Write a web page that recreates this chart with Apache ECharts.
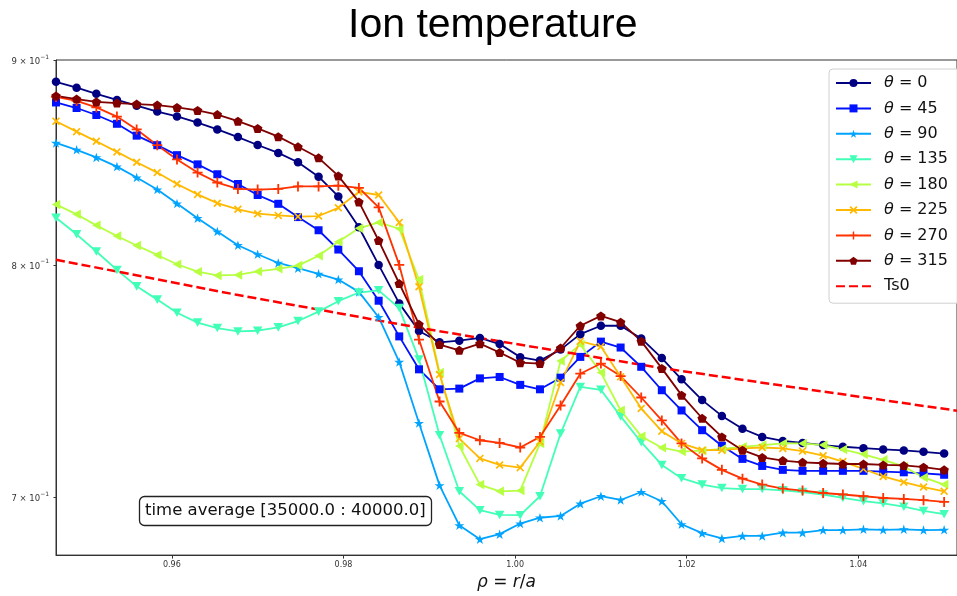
<!DOCTYPE html>
<html><head><meta charset="utf-8">
<script src="https://cdn.jsdelivr.net/npm/echarts@6/dist/echarts.min.js"></script>
<style>html,body{margin:0;padding:0;background:#fff}#c{width:957px;height:596px}</style>
</head><body><div id="c"></div>
<script>
// ---- data ----
const rho = [0.9465,0.9489,0.9512,0.9536,0.9559,0.9583,0.9606,0.9630,0.9653,0.9677,0.9700,0.9724,0.9747,0.9771,0.9794,0.9818,0.9841,0.9865,0.9888,0.9912,0.9935,0.9959,0.9982,1.0006,1.0029,1.0053,1.0076,1.0100,1.0123,1.0147,1.0171,1.0194,1.0218,1.0241,1.0265,1.0288,1.0312,1.0335,1.0359,1.0382,1.0406,1.0429,1.0453,1.0476,1.0500];
const theta0 = [0.8888,0.8858,0.8827,0.8796,0.8767,0.8737,0.8713,0.8682,0.8648,0.8610,0.8571,0.8532,0.8486,0.8416,0.8321,0.8175,0.8000,0.7825,0.7702,0.7652,0.7659,0.7671,0.7644,0.7587,0.7572,0.7620,0.7688,0.7725,0.7725,0.7669,0.7583,0.7491,0.7402,0.7335,0.7281,0.7247,0.7230,0.7222,0.7213,0.7206,0.7200,0.7195,0.7191,0.7185,0.7178];
const theta45 = [0.8783,0.8755,0.8720,0.8676,0.8617,0.8570,0.8521,0.8476,0.8428,0.8381,0.8328,0.8286,0.8223,0.8161,0.8071,0.7971,0.7837,0.7678,0.7534,0.7448,0.7451,0.7495,0.7501,0.7467,0.7448,0.7498,0.7588,0.7655,0.7629,0.7545,0.7444,0.7358,0.7275,0.7210,0.7156,0.7127,0.7111,0.7107,0.7107,0.7107,0.7107,0.7104,0.7101,0.7097,0.7091];
const theta90 = [0.8581,0.8547,0.8510,0.8465,0.8412,0.8354,0.8287,0.8218,0.8155,0.8091,0.8049,0.8009,0.7985,0.7959,0.7933,0.7877,0.7763,0.7566,0.7305,0.7048,0.6888,0.6833,0.6853,0.6895,0.6918,0.6925,0.6974,0.7004,0.6989,0.7021,0.6984,0.6892,0.6857,0.6836,0.6846,0.6846,0.6859,0.6859,0.6869,0.6869,0.6872,0.6870,0.6872,0.6869,0.6870];
const theta135 = [0.8220,0.8142,0.8062,0.7977,0.7902,0.7842,0.7783,0.7739,0.7715,0.7700,0.7703,0.7718,0.7746,0.7788,0.7835,0.7874,0.7884,0.7804,0.7577,0.7254,0.7024,0.6948,0.6929,0.6928,0.7004,0.7261,0.7458,0.7446,0.7333,0.7225,0.7131,0.7077,0.7051,0.7037,0.7033,0.7033,0.7028,0.7021,0.7011,0.6997,0.6984,0.6975,0.6962,0.6945,0.6932];
const theta180 = [0.8283,0.8236,0.8184,0.8134,0.8090,0.8046,0.8003,0.7969,0.7952,0.7954,0.7970,0.7982,0.7997,0.8042,0.8107,0.8170,0.8198,0.8168,0.7933,0.7520,0.7209,0.7051,0.7024,0.7027,0.7220,0.7570,0.7642,0.7520,0.7359,0.7250,0.7202,0.7186,0.7190,0.7197,0.7206,0.7213,0.7220,0.7220,0.7213,0.7195,0.7175,0.7152,0.7125,0.7080,0.7051];
const theta225 = [0.8689,0.8637,0.8589,0.8537,0.8486,0.8436,0.8381,0.8331,0.8289,0.8260,0.8239,0.8231,0.8225,0.8228,0.8267,0.8343,0.8328,0.8198,0.7900,0.7512,0.7240,0.7158,0.7131,0.7120,0.7227,0.7477,0.7657,0.7633,0.7502,0.7366,0.7271,0.7220,0.7192,0.7192,0.7199,0.7203,0.7199,0.7188,0.7169,0.7145,0.7115,0.7084,0.7061,0.7041,0.7024];
const theta270 = [0.8811,0.8791,0.8758,0.8712,0.8648,0.8570,0.8500,0.8436,0.8388,0.8357,0.8354,0.8357,0.8369,0.8369,0.8373,0.8362,0.8269,0.8000,0.7664,0.7396,0.7264,0.7233,0.7222,0.7203,0.7247,0.7379,0.7515,0.7559,0.7505,0.7413,0.7316,0.7220,0.7158,0.7111,0.7075,0.7051,0.7035,0.7027,0.7017,0.7011,0.7004,0.6997,0.6993,0.6988,0.6981];
const theta315 = [0.8816,0.8800,0.8786,0.8780,0.8775,0.8770,0.8758,0.8743,0.8722,0.8689,0.8653,0.8612,0.8562,0.8508,0.8420,0.8295,0.8113,0.7915,0.7732,0.7642,0.7617,0.7646,0.7607,0.7563,0.7559,0.7627,0.7725,0.7769,0.7741,0.7657,0.7538,0.7423,0.7325,0.7247,0.7192,0.7162,0.7149,0.7142,0.7138,0.7135,0.7135,0.7131,0.7129,0.7122,0.7111];
const ts0Rho = [0.9465,0.9674,0.9884,0.9970,1.0168,1.0339,1.0515];
const ts0 = [0.8024,0.7865,0.7719,0.7664,0.7541,0.7449,0.7357];
const xTicks = [0.96,0.98,1.00,1.02,1.04];
const yTicks = [0.7,0.8,0.9];
const thetaLabels = ['θ = 0','θ = 45','θ = 90','θ = 135','θ = 180','θ = 225','θ = 270','θ = 315'];
const thetaSeries = [theta0,theta45,theta90,theta135,theta180,theta225,theta270,theta315];

// ---- styles ----
const colors = ['#000080','#0012ff','#00a4ff','#41ffb6','#b6ff41','#ffb900','#ff3200','#800000'];
const STAR = 'path://M50,0L61.2,34.5L97.6,34.5L68.2,55.9L79.4,90.5L50,69.1L20.6,90.5L31.8,55.9L2.4,34.5L38.8,34.5Z';
const PENT = 'path://M50,0L97.6,34.5L79.4,90.5L20.6,90.5L2.4,34.5Z';
const TDOWN = 'path://M0,0L10,0L5,9Z';
const TLEFT = 'path://M0,5L9,0L9,10Z';
const XMARK = 'path://M0,1.5L1.5,0L5,3.5L8.5,0L10,1.5L6.5,5L10,8.5L8.5,10L5,6.5L1.5,10L0,8.5L3.5,5Z';
const PLUS = 'path://M4.1,0L5.9,0L5.9,4.1L10,4.1L10,5.9L5.9,5.9L5.9,10L4.1,10L4.1,5.9L0,5.9L0,4.1L4.1,4.1Z';
const symbols = ['circle','rect',STAR,TDOWN,TLEFT,XMARK,PLUS,PENT];
const sizes = [8.5,8,10,9.5,9.5,8,10,9.5];

const series = thetaSeries.map((vals, k) => ({
  name: thetaLabels[k], type: 'line',
  data: rho.map((x, i) => [x, vals[i]]),
  symbol: symbols[k], symbolSize: sizes[k], symbolKeepAspect: true,
  lineStyle: {color: colors[k], width: 1.8},
  itemStyle: {color: colors[k]},
  emphasis: {disabled: true}
}));
series.push({
  name: 'Ts0', type: 'line',
  data: ts0Rho.map((x, i) => [x, ts0[i]]),
  symbol: 'none',
  lineStyle: {color: '#ff0000', width: 2.5, type: [9, 4]},
  itemStyle: {color: '#ff0000'},
  emphasis: {disabled: true}
});

const chart = echarts.init(document.getElementById('c'));
chart.setOption({
  animation: false,
  backgroundColor: '#ffffff',
  title: [
    {text: 'Ion temperature', left: 348, top: 5, padding: 0,
     textStyle: {fontFamily: 'Liberation Sans', fontSize: 41, fontWeight: 'normal', color: '#000', lineHeight: 41}},
    {text: 'time average [35000.0 : 40000.0]', left: 139, top: 496, padding: [5, 6, 5, 6],
     borderColor: '#222', borderWidth: 1.3, borderRadius: 5, backgroundColor: '#fff',
     textStyle: {fontFamily: 'DejaVu Sans', fontSize: 16.5, fontWeight: 'normal', color: '#111', lineHeight: 20}}
  ],
  grid: {left: 56, right: -2, top: 60, bottom: 37, show: true, borderColor: '#333', borderWidth: 1, backgroundColor: 'transparent'},
  legend: {
    orient: 'vertical', left: 829, top: 69,
    itemWidth: 35, itemHeight: 10, itemGap: 5.4,
    padding: [4, 40, 7, 6],
    backgroundColor: 'rgba(255,255,255,0.85)', borderColor: '#d0d0d0', borderWidth: 1, borderRadius: 4,
    textStyle: {fontFamily: 'DejaVu Sans', fontSize: 16, color: '#111', lineHeight: 20, padding: [0, 0, 0, 8],
      rich: {i: {fontFamily: 'DejaVu Sans', fontStyle: 'italic', fontSize: 16, color: '#111', lineHeight: 20}}},
    formatter: n => n.charAt(0) === 'θ' ? '{i|θ}' + n.slice(1) : n,
    data: thetaLabels.concat([{name: 'Ts0', itemStyle: {opacity: 0}}])
  },
  xAxis: {
    type: 'value', min: 0.9465, max: 1.0515,
    axisLine: {show: true, lineStyle: {color: '#333', width: 1}},
    axisTick: {show: true, customValues: xTicks, length: 3.5, lineStyle: {color: '#333'}},
    axisLabel: {customValues: xTicks, formatter: v => v.toFixed(2), fontSize: 8, color: '#333', fontFamily: 'DejaVu Sans', margin: 6},
    splitLine: {show: false},
    name: '{i|ρ} = {i|r}/{i|a}', nameLocation: 'middle', nameGap: 16,
    nameTextStyle: {fontFamily: 'DejaVu Sans', fontSize: 17, color: '#111',
      rich: {i: {fontFamily: 'DejaVu Sans', fontStyle: 'italic', fontSize: 17, color: '#111'}}}
  },
  yAxis: {
    type: 'log', logBase: 10, min: 0.6771, max: 0.9,
    axisLine: {show: true, lineStyle: {color: '#333', width: 1}},
    axisTick: {show: true, customValues: yTicks, length: 2.5, lineStyle: {color: '#333'}},
    axisLabel: {customValues: yTicks, margin: 7, showMaxLabel: true,
      formatter: v => '{b|' + Math.round(v * 10) + ' × 10}{s|−1}',
      rich: {
        b: {fontFamily: 'DejaVu Sans', fontSize: 8.5, color: '#333', lineHeight: 12, verticalAlign: 'bottom'},
        s: {fontFamily: 'DejaVu Sans', fontSize: 6, color: '#333', lineHeight: 6, verticalAlign: 'top'}
      }},
    splitLine: {show: false},
    minorTick: {show: false}
  },
  series: series
});
</script></body></html>
